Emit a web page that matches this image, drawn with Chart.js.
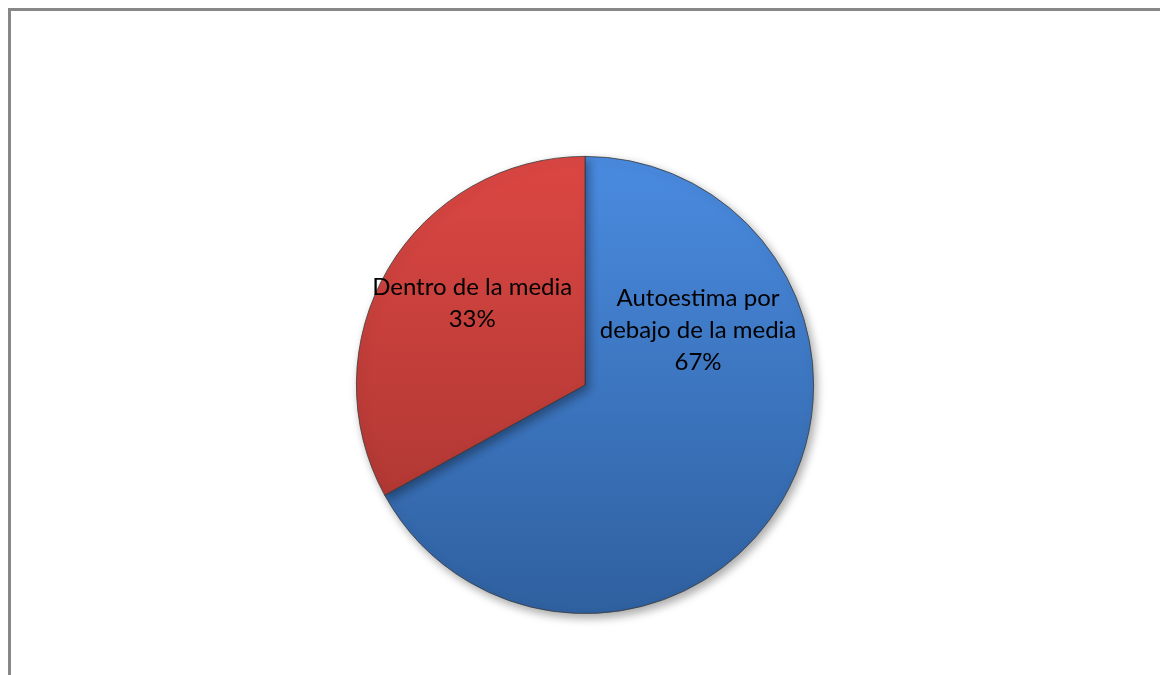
<!DOCTYPE html>
<html>
<head>
<meta charset="utf-8">
<script src="https://cdn.jsdelivr.net/npm/chart.js@4/dist/chart.umd.min.js"></script>
<style>
  html, body { margin: 0; padding: 0; background: #fff; }
  body { width: 1160px; height: 675px; overflow: hidden; position: relative; }
  #frame { position: absolute; left: 8px; top: 8px; width: 1200px; height: 720px; border: 3px solid #878787; box-sizing: border-box; }
  #wrap { position: absolute; left: 0; top: 0; width: 1160px; height: 675px; }
</style>
</head>
<body>
<div id="frame"></div>
<div id="wrap"><canvas id="chart" width="1160" height="675"></canvas></div>
<script>
// datos del grafico
const categorias = [['Autoestima por', 'debajo de la media'], ['Dentro de la media']];
const valores = [67, 33];
const porcentajes = ['67%', '33%'];
const coloresArriba = ['#4a8be0', '#dc4743'];
const coloresAbajo = ['#2f609f', '#a3332f'];
// angulo (grados desde arriba, sentido horario) y distancia relativa de cada etiqueta
const etiquetaAngulo = [64, 306];
const etiquetaRadio = [0.55, 0.61];

const ctx = document.getElementById('chart').getContext('2d');

function degradado(context, i) {
  const area = context.chart.chartArea;
  if (!area) return coloresArriba[i];
  const g = context.chart.ctx.createLinearGradient(0, area.top, 0, area.bottom);
  g.addColorStop(0, coloresArriba[i]);
  g.addColorStop(1, coloresAbajo[i]);
  return g;
}

const sombra = {
  id: 'sombra',
  beforeDatasetsDraw(chart) {
    const c = chart.ctx;
    c.save();
    c.shadowColor = 'rgba(0,0,0,0.35)';
    c.shadowBlur = 10;
    c.shadowOffsetX = 3;
    c.shadowOffsetY = 4;
  },
  afterDatasetsDraw(chart) {
    chart.ctx.restore();
  }
};

const etiquetas = {
  id: 'etiquetas',
  afterDatasetsDraw(chart) {
    const c = chart.ctx;
    const meta = chart.getDatasetMeta(0);
    c.save();
    c.font = '24px Lato, "Open Sans", sans-serif';
    c.fillStyle = '#000';
    c.textAlign = 'center';
    c.textBaseline = 'middle';
    meta.data.forEach((arc, i) => {
      const a = etiquetaAngulo[i] * Math.PI / 180;
      const r = arc.outerRadius * etiquetaRadio[i];
      const x = arc.x + Math.sin(a) * r;
      const y = arc.y - Math.cos(a) * r;
      const lineas = [].concat(categorias[i], porcentajes[i]);
      const alto = 32;
      const y0 = y - (lineas.length - 1) * alto / 2;
      lineas.forEach((t, k) => c.fillText(t, x, y0 + k * alto));
    });
    c.restore();
  }
};

new Chart(ctx, {
  type: 'pie',
  data: {
    labels: categorias.map(l => [].concat(l).join(' ')),
    datasets: [{
      data: valores,
      backgroundColor: (context) => degradado(context, context.dataIndex),
      borderColor: '#3a3a3a',
      borderWidth: 0.8
    }]
  },
  options: {
    responsive: false,
    animation: false,
    layout: { padding: { top: 156, bottom: 61, left: 10, right: 0 } },
    plugins: { legend: { display: false }, tooltip: { enabled: false } }
  },
  plugins: [sombra, etiquetas]
});
</script>
</body>
</html>
